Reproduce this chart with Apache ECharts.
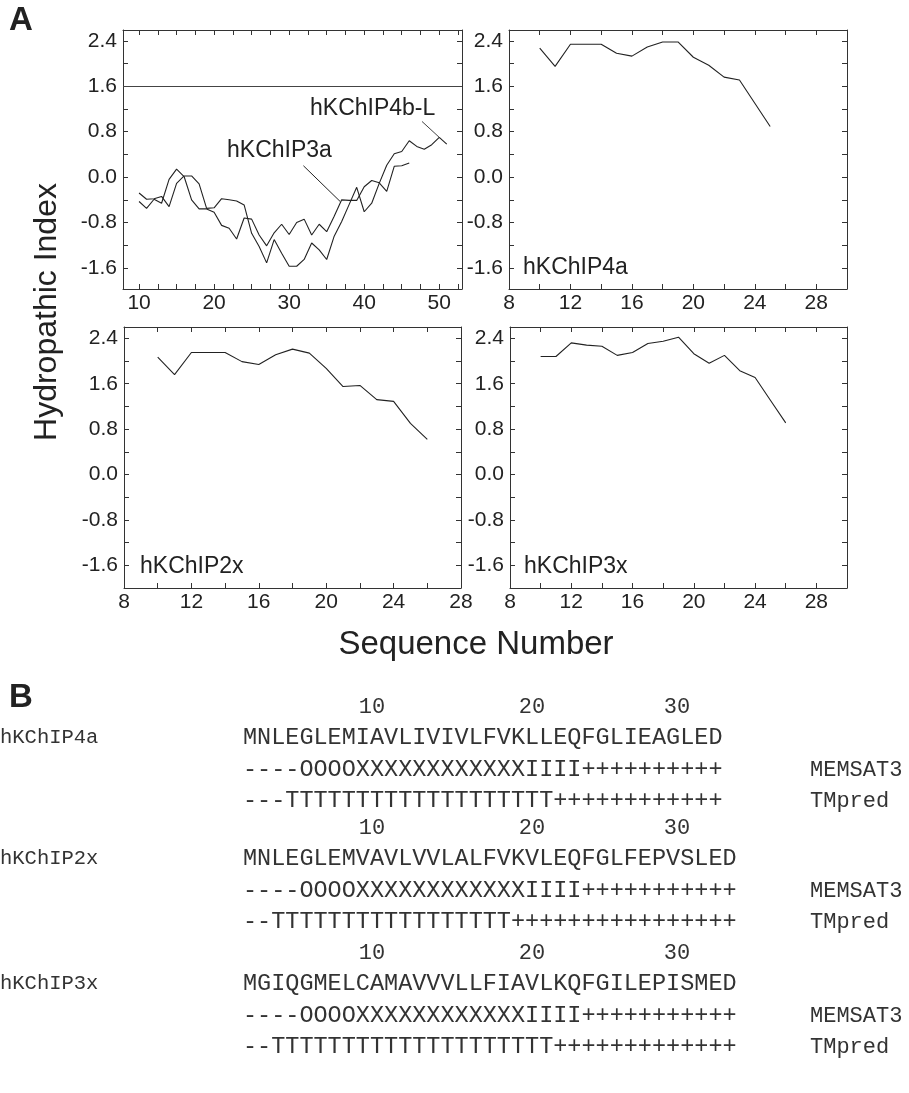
<!DOCTYPE html>
<html>
<head>
<meta charset="utf-8">
<script src="https://cdn.jsdelivr.net/npm/echarts@6/dist/echarts.min.js"></script>
<style>
html,body{margin:0;padding:0;background:#fff}
#main{width:909px;height:1093px}
</style>
</head>
<body>
<div id="main"></div>
<script>
// every hydropathy window starts at residue 10
var startRes = 10;
var kchip4bL = [-0.28,-0.39,-0.38,-0.34,-0.52,-0.11,0.02,0.02,-0.12,-0.55,-0.54,-0.38,-0.40,-0.42,-0.49,-0.99,-1.22,-1.51,-1.10,-1.34,-1.57,-1.57,-1.45,-1.16,-1.28,-1.45,-1.04,-0.78,-0.48,-0.18,-0.61,-0.46,-0.11,0.21,0.41,0.45,0.64,0.54,0.49,0.57,0.70,0.58];
var kchip3a = [-0.43,-0.55,-0.39,-0.46,-0.04,0.14,0.01,-0.40,-0.56,-0.56,-0.62,-0.85,-0.90,-1.09,-0.72,-0.74,-1.02,-1.21,-0.98,-0.83,-1.01,-0.80,-0.74,-1.02,-0.83,-0.96,-0.69,-0.40,-0.41,-0.41,-0.17,-0.06,-0.10,-0.25,0.19,0.20,0.25];
var kchip4a = [2.27,1.95,2.34,2.34,2.34,2.18,2.13,2.29,2.38,2.38,2.11,1.97,1.76,1.71,1.30,0.89];
var kchip2x = [2.07,1.76,2.15,2.15,2.15,1.99,1.94,2.11,2.21,2.14,1.87,1.55,1.57,1.32,1.29,0.90,0.62];
var kchip3x = [2.08,2.08,2.32,2.28,2.26,2.10,2.15,2.31,2.35,2.42,2.13,1.96,2.10,1.83,1.71,1.31,0.91];
var cutoff = 1.6;

var yTicks = [-1.6,-1.2,-0.8,-0.4,0,0.4,0.8,1.2,1.6,2.0,2.4];
var yLabels = [-1.6,-0.8,0,0.8,1.6,2.4];
var xTicksWide = [10,12.5,15,17.5,20,22.5,25,27.5,30,32.5,35,37.5,40,42.5,45,47.5,50,52.5];
var xLabelsWide = [10,20,30,40,50];
var xTicksNarrow = [8,10,12,14,16,18,20,22,24,26,28,30];
var xLabelsNarrow = [8,12,16,20,24,28];

// part B
var bNames = ['hKChIP4a','hKChIP2x','hKChIP3x'];
var bSeq = ['MNLEGLEMIAVLIVIVLFVKLLEQFGLIEAGLED','MNLEGLEMVAVLVVLALFVKVLEQFGLFEPVSLED','MGIQGMELCAMAVVVLLFIAVLKQFGILEPISMED'];
var bMemsat = ['----OOOOXXXXXXXXXXXXIIII++++++++++','----OOOOXXXXXXXXXXXXIIII+++++++++++','----OOOOXXXXXXXXXXXXIIII+++++++++++'];
var bTmpred = ['---TTTTTTTTTTTTTTTTTTT++++++++++++','--TTTTTTTTTTTTTTTTT++++++++++++++++','--TTTTTTTTTTTTTTTTTTTT+++++++++++++'];
var bRuler = ['10','20','30'];

function toXY(vals){
  return vals.map(function(v,i){ return [startRes+i, v]; });
}

var ink = '#222';
var panels = [
  {grid:{left:123,top:30,width:339,height:259}, xmin:7.86, xmax:53.03, ymin:-1.97, ymax:2.59, ticks:xTicksWide, labels:xLabelsWide},
  {grid:{left:509,top:30,width:338,height:259}, xmin:8, xmax:30, ymin:-1.97, ymax:2.59, ticks:xTicksNarrow, labels:xLabelsNarrow},
  {grid:{left:124,top:327,width:337,height:261}, xmin:8, xmax:28, ymin:-2.0, ymax:2.6, ticks:xTicksNarrow.slice(0,11), labels:xLabelsNarrow},
  {grid:{left:510,top:327,width:337,height:261}, xmin:8, xmax:30, ymin:-2.0, ymax:2.6, ticks:xTicksNarrow, labels:xLabelsNarrow}
];

var grids = [], xAxes = [], yAxes = [];
panels.forEach(function(p,i){
  grids.push(Object.assign({show:false}, p.grid));
  ['bottom','top'].forEach(function(pos){
    xAxes.push({
      type:'value', gridIndex:i, position:pos, min:p.xmin, max:p.xmax,
      axisLine:{show:true,onZero:false,lineStyle:{color:'#333',width:1}},
      axisTick:{show:true,inside:true,length:5,customValues:p.ticks,lineStyle:{color:'#333'}},
      axisLabel:{show:pos==='bottom',customValues:p.labels,fontSize:21,color:ink,margin:4,fontFamily:'Liberation Sans'},
      splitLine:{show:false}
    });
  });
  ['left','right'].forEach(function(pos){
    yAxes.push({
      type:'value', gridIndex:i, position:pos, min:p.ymin, max:p.ymax,
      axisLine:{show:true,onZero:false,lineStyle:{color:'#333',width:1}},
      axisTick:{show:true,inside:true,length:5,customValues:yTicks,lineStyle:{color:'#333'}},
      axisLabel:{show:pos==='left',customValues:yLabels,fontSize:21,color:ink,margin:6,fontFamily:'Liberation Sans',
        formatter:function(v){ return v.toFixed(1); }},
      splitLine:{show:false}
    });
  });
});

var lineStyle = {color:ink,width:1.1};
function curve(name, vals, gi, extra){
  return Object.assign({
    name:name, type:'line', xAxisIndex:gi*2, yAxisIndex:gi*2,
    data:toXY(vals), showSymbol:false, symbol:'none', lineStyle:lineStyle, silent:true, animation:false
  }, extra || {});
}

var series = [
  curve('hKChIP4b-L', kchip4bL, 0, {
    markLine:{silent:true,symbol:'none',label:{show:false},animation:false,
      lineStyle:{color:'#444',width:1,type:'solid'},
      data:[
        {yAxis:cutoff},
        [{coord:[47.7,0.98]},{coord:[50,0.70]}]
      ]}
  }),
  curve('hKChIP3a', kchip3a, 0, {
    markLine:{silent:true,symbol:'none',label:{show:false},animation:false,
      lineStyle:{color:'#222',width:1,type:'solid'},
      data:[[{coord:[31.9,0.20]},{coord:[36.8,-0.43]}]]}
  }),
  curve('hKChIP4a', kchip4a, 1),
  curve('hKChIP2x', kchip2x, 2),
  curve('hKChIP3x', kchip3x, 3)
];

function txt(text, x, y, size, opts){
  opts = opts || {};
  return {
    type:'text', x:x, y:y, rotation:opts.rotation || 0, silent:true,
    style:{text:text, fill:opts.fill || ink,
      font:(opts.weight || 'normal') + ' ' + size + 'px ' + (opts.family || '"Liberation Sans", Arial, sans-serif'),
      textAlign:opts.align || 'left', textVerticalAlign:'middle',
      align:opts.align || 'left', verticalAlign:'middle'}
  };
}

var graphics = [
  txt('A', 9, 21, 33, {weight:'bold'}),
  txt('Hydropathic Index', 47, 312, 32, {rotation:Math.PI/2, align:'center'}),
  txt('Sequence Number', 476, 645, 33, {align:'center'}),
  txt('hKChIP4b-L', 310, 109, 23),
  txt('hKChIP3a', 227, 151, 23),
  txt('hKChIP4a', 523, 268, 23),
  txt('hKChIP2x', 140, 567, 23),
  txt('hKChIP3x', 524, 567, 23),
  txt('B', 9, 698, 33, {weight:'bold'})
];

var mono = '"Liberation Mono", "Courier New", monospace';
var bRows = [707, 828, 953];
var rulerX = [372, 532, 677];
bNames.forEach(function(name,i){
  var y0 = bRows[i];
  bRuler.forEach(function(r,j){
    graphics.push(txt(r, rulerX[j], y0, 22, {family:mono, align:'center', fill:'#333'}));
  });
  graphics.push(txt(name, 0, y0+31, 20.5, {family:mono, fill:'#333'}));
  graphics.push(txt(bSeq[i], 243, y0+31, 23.5, {family:mono, fill:'#333'}));
  graphics.push(txt(bMemsat[i], 243, y0+63, 23.5, {family:mono, fill:'#333'}));
  graphics.push(txt('MEMSAT3', 810, y0+63, 22, {family:mono, fill:'#333'}));
  graphics.push(txt(bTmpred[i], 243, y0+94, 23.5, {family:mono, fill:'#333'}));
  graphics.push(txt('TMpred', 810, y0+94, 22, {family:mono, fill:'#333'}));
});

var chart = echarts.init(document.getElementById('main'), null, {renderer:'canvas'});
chart.setOption({
  backgroundColor:'#fff',
  animation:false,
  grid:grids,
  xAxis:xAxes,
  yAxis:yAxes,
  series:series,
  graphic:graphics
});
</script>
</body>
</html>
